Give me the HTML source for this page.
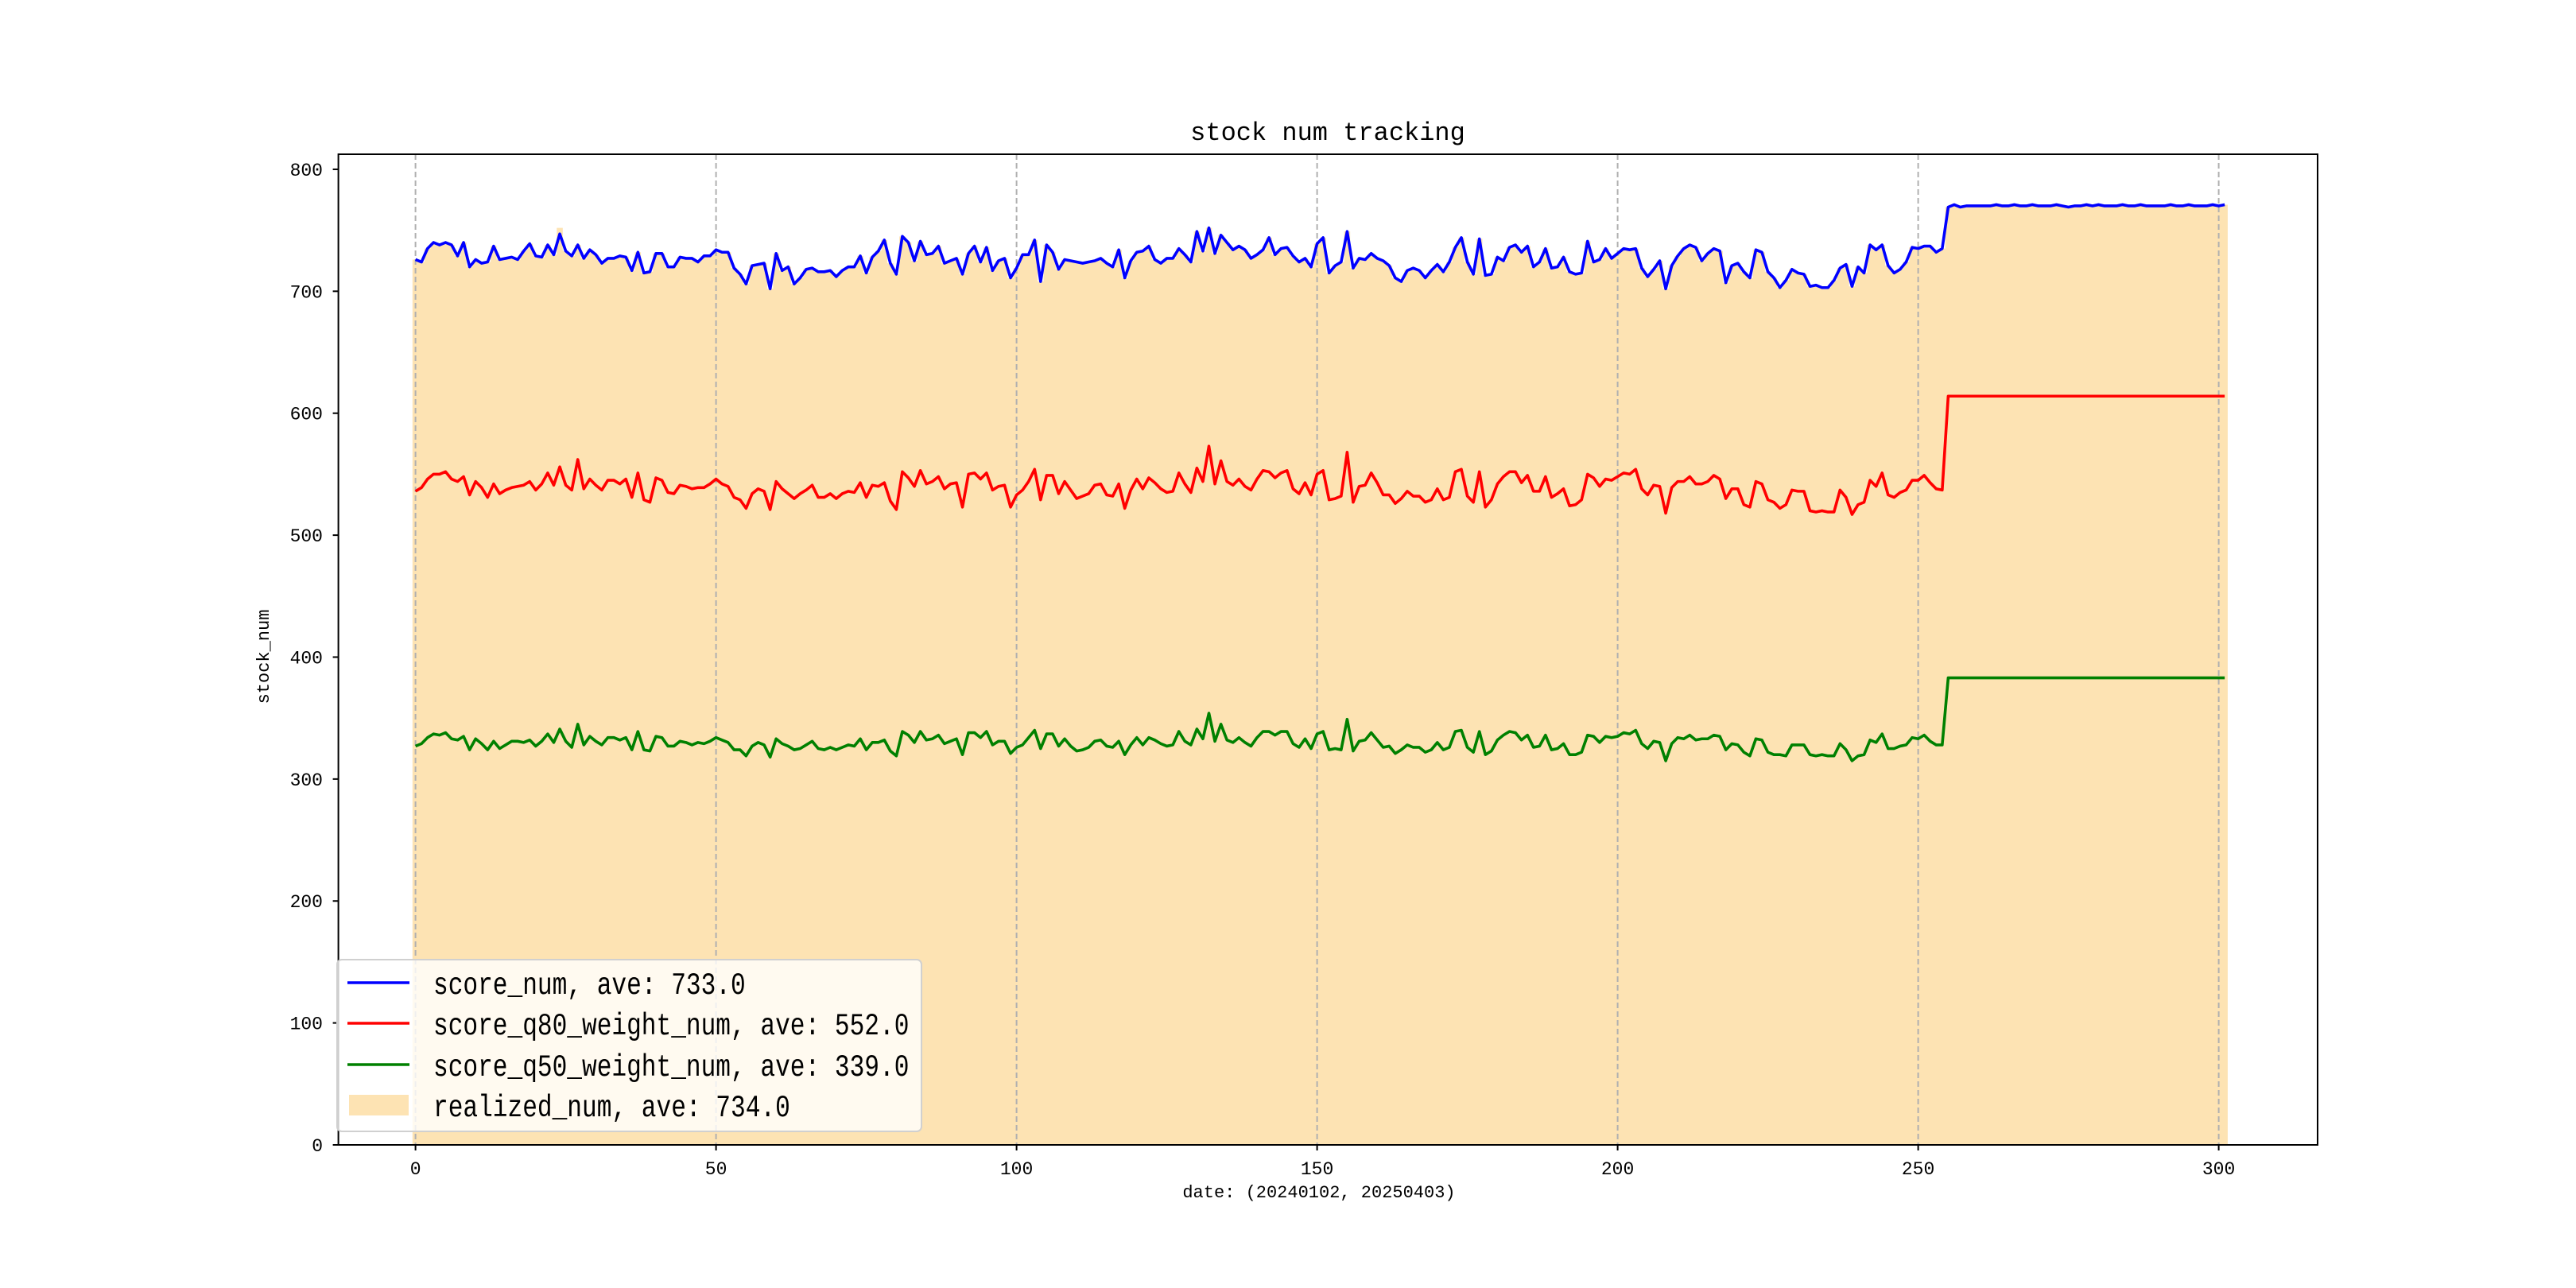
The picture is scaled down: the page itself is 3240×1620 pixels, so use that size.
<!DOCTYPE html>
<html><head><meta charset="utf-8"><style>
html,body{margin:0;padding:0;background:#fff;}
svg{display:block;}
text{font-family:"Liberation Mono","Noto Sans CJK SC",monospace;fill:#000;}
</style></head><body>
<svg id="chart" width="3240" height="1620" viewBox="0 0 3240 1620" xmlns="http://www.w3.org/2000/svg">
<rect width="3240" height="1620" fill="#fff"/>
<g id="plot"></g>
</svg>
<script>
const xTicks=[0,50,100,150,200,250,300];
const yTicks=[0,100,200,300,400,500,600,700,800];
const scoreNum=[726,724,735,740,738,740,738,729,740,720,726,723,724,737,726,727,728,726,733,739,729,728,738,730,747,733,729,738,727,734,730,723,727,727,729,728,717,732,715,716,731,731,720,720,728,727,727,724,729,729,734,732,732,719,714,706,721,722,723,702,731,717,720,706,711,718,719,716,716,717,712,717,720,720,729,715,
728,733,742,723,714,745,740,725,741,730,731,737,723,725,727,714,731,737,724,736,717,725,727,711,719,730,730,742,708,738,732,718,726,725,724,723,724,725,727,723,720,734,711,725,732,733,737,726,723,727,727,735,730,724,749,733,752,731,746,740,734,737,734,727,730,734,744,730,735,736,729,724,727,720,739,
744,715,721,724,749,719,727,726,731,727,725,721,711,708,717,719,717,711,717,722,716,724,736,744,724,714,743,713,714,728,725,736,738,732,737,720,724,735,719,720,728,716,714,715,741,724,726,735,727,731,735,734,735,719,712,718,725,702,721,729,735,738,736,725,731,735,733,707,721,723,716,711,734,732,716,711,
703,709,718,715,714,704,705,703,703,709,719,722,704,720,715,738,734,738,721,715,718,724,736,735,737,737,732,735,
769,771,769,770,770,770,770,770,771,770,770,771,770,770,771,770,770,770,771,770,769,770,770,771,770,771,770,770,770,771,770,770,771,770,770,770,770,771,770,770,771,770,770,770,771,770,771];
const q80Num=[536,539,546,550,550,552,546,544,548,533,544,539,531,542,534,537,539,540,541,544,537,542,551,541,556,541,537,562,538,546,541,537,545,545,542,546,531,551,529,527,547,545,535,534,541,540,538,539,539,542,546,542,540,531,529,522,534,538,536,521,544,538,534,530,534,537,541,531,531,534,530,534,536,535,543,531,
541,540,543,528,521,552,547,540,553,542,544,548,538,542,543,523,550,551,546,551,537,540,541,523,533,537,544,554,529,549,549,534,544,537,530,532,534,541,542,533,532,542,522,537,546,538,547,543,538,535,536,551,542,535,555,544,573,542,561,544,541,546,540,537,546,553,552,547,551,553,538,534,543,533,550,
553,529,530,532,568,527,540,541,551,543,533,533,526,530,536,532,532,527,529,538,529,531,552,554,532,527,552,523,529,542,548,552,552,543,549,536,536,548,531,534,538,524,525,529,550,547,540,546,545,548,551,550,554,538,533,541,540,518,539,544,544,548,542,542,544,549,546,530,538,538,525,523,544,542,529,527,
522,525,537,536,536,520,519,520,519,519,537,531,517,525,527,545,540,551,533,531,535,537,545,545,549,543,538,537,
614,614,614,614,614,614,614,614,614,614,614,614,614,614,614,614,614,614,614,614,614,614,614,614,614,614,614,614,614,614,614,614,614,614,614,614,614,614,614,614,614,614,614,614,614,614,614];
const q50Num=[327,329,334,337,336,338,333,332,335,324,333,329,324,331,325,328,331,331,330,332,327,331,337,330,341,331,326,345,328,335,331,328,334,334,332,334,324,339,324,323,335,334,327,327,331,330,328,330,329,331,334,332,330,324,324,319,327,330,328,318,333,329,327,324,325,328,331,325,324,326,324,326,328,327,333,324,
330,330,332,323,319,339,336,330,339,332,333,336,329,331,333,320,338,338,334,339,328,331,331,321,326,328,334,340,325,337,337,327,333,327,323,324,326,331,332,327,326,331,320,328,334,328,334,332,329,327,328,339,331,328,341,333,354,331,345,332,330,334,330,327,334,339,339,336,339,339,329,326,333,325,337,
339,324,325,324,349,323,331,332,338,332,326,327,321,324,328,326,326,322,324,330,324,326,339,340,326,322,339,320,323,332,336,339,338,332,336,326,327,336,324,325,329,320,320,322,336,335,330,335,334,335,338,337,340,329,325,331,330,315,329,334,333,336,332,333,333,336,335,324,329,328,322,319,333,332,322,320,
320,319,328,328,328,320,319,320,319,319,329,324,315,319,320,332,330,337,325,325,327,328,334,333,336,331,328,328,
383,383,383,383,383,383,383,383,383,383,383,383,383,383,383,383,383,383,383,383,383,383,383,383,383,383,383,383,383,383,383,383,383,383,383,383,383,383,383,383,383,383,383,383,383,383,383];
const realizedNum=scoreNum.slice();
realizedNum[24]=752;
const legendLabels=["score_num, ave: 733.0","score_q80_weight_num, ave: 552.0","score_q50_weight_num, ave: 339.0","realized_num, ave: 734.0"];

const L=425.6,R=2915,T=194,B=1440;
const X0=522.6,XS=7.56,YS=1.5338;
function sx(v){return X0+v*XS;}
function sy(v){return B-v*YS;}
const NS="http://www.w3.org/2000/svg";
const g=document.getElementById('plot');
function mk(tag,attrs,parent){const e=document.createElementNS(NS,tag);for(const k in attrs)e.setAttribute(k,attrs[k]);(parent||g).appendChild(e);return e;}

let d="M"+sx(-0.5)+","+B;
realizedNum.forEach((v,i)=>{d+=" L"+sx(i-0.5)+","+sy(v)+" L"+sx(i+0.5)+","+sy(v);});
d+=" L"+sx(realizedNum.length-0.5)+","+B+" Z";
const fill=mk('path',{d:d,fill:'#fde3b3'});



xTicks.forEach(t=>{
  const gl=mk('line',{x1:sx(t),x2:sx(t),y1:T,y2:B,stroke:'#b0b0b0','stroke-width':2,'stroke-dasharray':'7,4'});
  
  
});

function line(vals,color,name){
  const p=mk('polyline',{points:vals.map((v,i)=>sx(i)+","+sy(v)).join(" "),fill:'none',stroke:color,'stroke-width':3.6,'stroke-linejoin':'round'});
  
  
}
line(scoreNum,'#0000ff','score-num-line');
line(q80Num,'#ff0000','score-q80-line');
line(q50Num,'#008000','score-q50-line');

const fr=mk('rect',{x:L,y:T,width:R-L,height:B-T,fill:'none',stroke:'#000','stroke-width':2});



xTicks.forEach(t=>{
  mk('line',{x1:sx(t),x2:sx(t),y1:B,y2:B+7,stroke:'#000','stroke-width':2});
  const tx=mk('text',{x:sx(t),y:1477,'text-anchor':'middle','font-size':23});
  tx.textContent=t;
  
  
});
yTicks.forEach(t=>{
  mk('line',{x1:L-7,x2:L,y1:sy(t),y2:sy(t),stroke:'#000','stroke-width':2});
  const tx=mk('text',{x:406,y:sy(t)+8,'text-anchor':'end','font-size':23});
  tx.textContent=t;
  
  
});

const title=mk('text',{x:1670,y:176,'text-anchor':'middle','font-size':32});
title.textContent="stock num tracking";


const xl=mk('text',{x:1659,y:1506,'text-anchor':'middle','font-size':22});
xl.textContent="date: (20240102, 20250403)";


const yl=mk('text',{x:0,y:0,'text-anchor':'middle','font-size':22,transform:'translate(338,826) rotate(-90)'});
yl.textContent="stock_num";



const lg=mk('g',{});


mk('rect',{x:424,y:1207,width:735,height:216,rx:6,fill:'rgba(255,255,255,0.8)',stroke:'#d0d0d0','stroke-width':2},lg);
const colors=['#0000ff','#ff0000','#008000'];
const ys=[1236,1287,1339,1390];
legendLabels.forEach((lab,i)=>{
  if(i<3){mk('line',{x1:437,x2:515,y1:ys[i],y2:ys[i],stroke:colors[i],'stroke-width':3.6},lg);}
  else{mk('rect',{x:439,y:ys[i]-13,width:75,height:26,fill:'#fde3b3'},lg);}
  const t=mk('text',{x:545,y:ys[i]+14,'font-size':39,textLength:lab.length*18.7,lengthAdjust:'spacingAndGlyphs'},lg);
  t.textContent=lab;
  
  
});
</script>
</body></html>
